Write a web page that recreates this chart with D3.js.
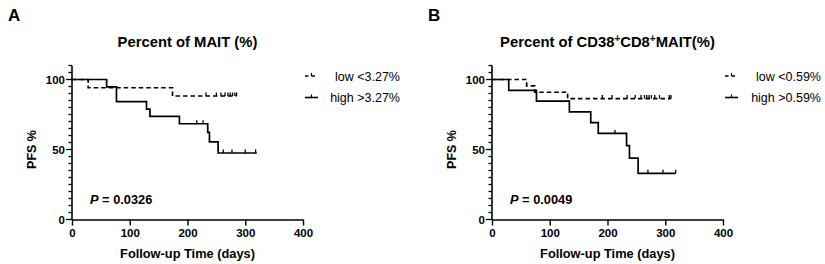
<!DOCTYPE html>
<html>
<head>
<meta charset="utf-8">
<script src="https://cdn.jsdelivr.net/npm/d3@7"></script>
<style>
  body { margin: 0; background: #fff; }
  svg { font-family: "Liberation Sans", Arial, sans-serif; }
</style>
</head>
<body>
<svg width="825" height="264"></svg>
<script>
// ---- data ----
// panel A: Percent of MAIT
const aLowSteps = [[0, 100], [28, 94.1], [174, 88.2]];
const aLowEnd = 285;
const aLowCensor = [232, 250, 258, 265, 270, 274, 278, 282, 285];
const aHighSteps = [[0, 100], [60, 94.7], [77, 84.2], [129, 78.9], [135, 73.7], [186, 68.4], [235, 62.2], [238, 55.5], [253, 47.5]];
const aHighEnd = 320;
const aHighCensor = [216, 227, 262, 277, 300, 318];

// panel B: Percent of CD38+CD8+MAIT
const bLowSteps = [[0, 100], [60, 95.5], [74, 90.9], [131, 86.4]];
const bLowEnd = 310;
const bLowCensor = [191, 208, 234, 248, 258, 264, 268, 272, 276, 282, 290, 307, 310];
const bHighSteps = [[0, 100], [29, 92.3], [77, 84.6], [134, 76.9], [171, 69.2], [184, 61.5], [233, 52.7], [238, 43.9], [253, 33]];
const bHighEnd = 318;
const bHighCensor = [213, 270, 296, 318];

const xTicks = [0, 100, 200, 300, 400];
const yTicks = [0, 50, 100];

const panels = [
  { letter: "A", left: 72, title: ["Percent of MAIT (%)"], pText: "0.0326",
    low: aLowSteps, lowEnd: aLowEnd, lowC: aLowCensor,
    high: aHighSteps, highEnd: aHighEnd, highC: aHighCensor,
    legLow: "low <3.27%", legHigh: "high >3.27%", legRight: 400 },
  { letter: "B", left: 492, title: null, pText: "0.0049",
    low: bLowSteps, lowEnd: bLowEnd, lowC: bLowCensor,
    high: bHighSteps, highEnd: bHighEnd, highC: bHighCensor,
    legLow: "low <0.59%", legHigh: "high >0.59%", legRight: 821 }
];

const svg = d3.select("svg");
const plotW = 231, plotTop = 79.5, plotBottom = 219.5;

panels.forEach(p => {
  const x = d3.scaleLinear().domain([0, 400]).range([p.left, p.left + plotW]);
  const y = d3.scaleLinear().domain([0, 100]).range([plotBottom, plotTop]);
  const g = svg.append("g");
  const cx = p.left + plotW / 2;

  // panel letter
  g.append("text").attr("x", p.left - 64).attr("y", 21)
    .style("font-size", "17px").style("font-weight", "bold").text(p.letter);

  // title
  const t = g.append("text").attr("x", cx).attr("y", 47).attr("text-anchor", "middle")
    .style("font-size", "14.8px").style("font-weight", "bold");
  if (p.title) {
    t.text(p.title[0]);
  } else {
    t.append("tspan").text("Percent of CD38");
    t.append("tspan").attr("dy", -5.5).style("font-size", "10px").text("+");
    t.append("tspan").attr("dy", 5.5).text("CD8");
    t.append("tspan").attr("dy", -5.5).style("font-size", "10px").text("+");
    t.append("tspan").attr("dy", 5.5).text("MAIT(%)");
  }

  // y axis with minor ticks
  const yAx = g.append("g").attr("transform", `translate(${p.left},0)`);
  yAx.append("line").attr("x1", 0).attr("x2", 0).attr("y1", y(0)).attr("y2", y(110))
    .attr("stroke", "#000").attr("stroke-width", 1.6);
  d3.range(0, 111, 5).forEach(v => {
    const major = yTicks.includes(v);
    yAx.append("line").attr("x1", major ? -6 : -3.5).attr("x2", 0)
      .attr("y1", y(v)).attr("y2", y(v)).attr("stroke", "#000").attr("stroke-width", 1.3);
  });
  yAx.selectAll(".yl").data(yTicks).enter().append("text")
    .attr("x", -7).attr("y", d => y(d) + 4).attr("text-anchor", "end")
    .style("font-size", "11.5px").style("font-weight", "bold").text(d => d);

  // x axis
  const xAx = g.append("g").attr("transform", `translate(0,${plotBottom})`)
    .call(d3.axisBottom(x).tickValues(xTicks).tickSize(6).tickPadding(3).tickSizeOuter(0));
  xAx.select(".domain").attr("stroke-width", 1.6);
  xAx.selectAll(".tick line").attr("stroke-width", 1.4);
  xAx.selectAll("text").style("font-size", "11.5px").style("font-weight", "bold")
    .style("font-family", "Liberation Sans, Arial, sans-serif");

  // axis titles
  g.append("text").attr("x", cx).attr("y", 258).attr("text-anchor", "middle")
    .style("font-size", "12.8px").style("font-weight", "bold").text("Follow-up Time (days)");
  g.append("text").attr("transform", `translate(${p.left - 36},${y(50)}) rotate(-90)`)
    .attr("text-anchor", "middle").style("font-size", "12.5px").style("font-weight", "bold")
    .text("PFS %");

  // KM curves
  const line = d3.line().x(d => x(d[0])).y(d => y(d[1])).curve(d3.curveStepAfter);
  const survAt = (steps, tm) => {
    let s = 100;
    steps.forEach(d => { if (d[0] <= tm) s = d[1]; });
    return s;
  };
  const drawCurve = (steps, end, cens, dashed) => {
    const pts = steps.concat([[end, steps[steps.length - 1][1]]]);
    g.append("path").attr("d", line(pts)).attr("fill", "none").attr("stroke", "#000")
      .attr("stroke-width", 1.7).attr("stroke-dasharray", dashed ? "4.5,3" : null);
    g.selectAll(null).data(cens).enter().append("line")
      .attr("x1", d => x(d)).attr("x2", d => x(d))
      .attr("y1", d => y(survAt(steps, d))).attr("y2", d => y(survAt(steps, d)) - 3.5)
      .attr("stroke", "#000").attr("stroke-width", 1.3);
  };
  drawCurve(p.low, p.lowEnd, p.lowC, true);
  drawCurve(p.high, p.highEnd, p.highC, false);

  // p value
  const pt = g.append("text").attr("x", p.left + 18).attr("y", 204)
    .style("font-size", "12.8px").style("font-weight", "bold");
  pt.append("tspan").style("font-style", "italic").text("P");
  pt.append("tspan").text(" = " + p.pText);

  // legend
  const lx = p.left + 233;
  const leg = g.append("g");
  leg.append("line").attr("x1", lx).attr("x2", lx + 13).attr("y1", 76).attr("y2", 76)
    .attr("stroke", "#000").attr("stroke-width", 1.6).attr("stroke-dasharray", "3.5,3");
  leg.append("line").attr("x1", lx + 6.5).attr("x2", lx + 6.5).attr("y1", 76).attr("y2", 73)
    .attr("stroke", "#000").attr("stroke-width", 1.2);
  leg.append("line").attr("x1", lx).attr("x2", lx + 13).attr("y1", 97.5).attr("y2", 97.5)
    .attr("stroke", "#000").attr("stroke-width", 1.6);
  leg.append("line").attr("x1", lx + 6.5).attr("x2", lx + 6.5).attr("y1", 97.5).attr("y2", 94.5)
    .attr("stroke", "#000").attr("stroke-width", 1.2);
  leg.append("text").attr("x", p.legRight).attr("y", 80.5).attr("text-anchor", "end")
    .style("font-size", "12.5px").text(p.legLow);
  leg.append("text").attr("x", p.legRight).attr("y", 102).attr("text-anchor", "end")
    .style("font-size", "12.5px").text(p.legHigh);
});
</script>
</body>
</html>
